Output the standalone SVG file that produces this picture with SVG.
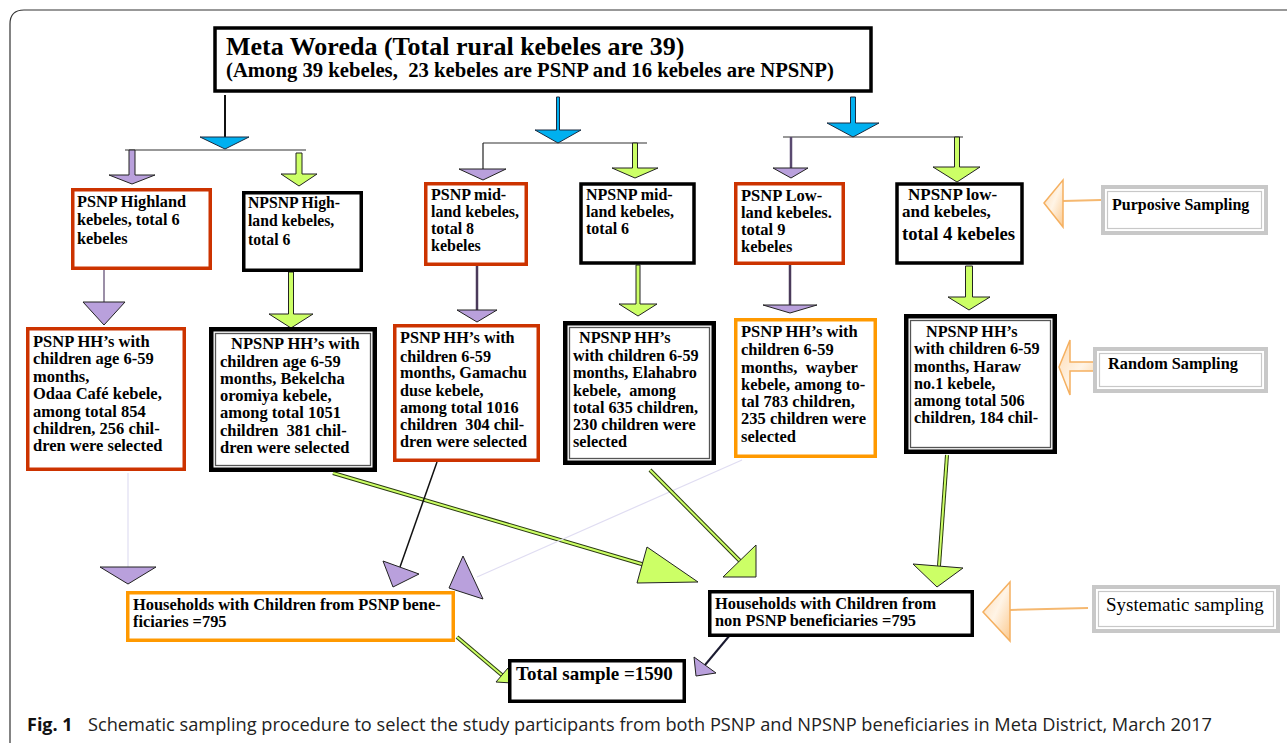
<svg xmlns="http://www.w3.org/2000/svg" width="1287" height="743" viewBox="0 0 1287 743">
<style>
.t{font-family:"Liberation Serif","Times New Roman",serif;font-weight:bold;fill:#000;white-space:pre}
.red{fill:#fff;stroke:#cc3300;stroke-width:3.5}
.org{fill:#fff;stroke:#ff9900;stroke-width:3.5}
.blk{fill:#fff;stroke:#000;stroke-width:3.5}
.dbo{fill:#fff;stroke:#000;stroke-width:4.5}
.dbi{fill:none;stroke:#555;stroke-width:1.3}
.gro{fill:#fff;stroke:#c8c8c8;stroke-width:4}
.gri{fill:none;stroke:#c8c8c8;stroke-width:1.2}
.pu{fill:#b9a0dc;stroke:#222;stroke-width:1}
.gr{fill:#ccff66;stroke:#222;stroke-width:1}
.bl{fill:#00b0f0;stroke:#1a2a40;stroke-width:1}
.hl{fill:none;stroke:#333;stroke-width:1.2}
.gl1{fill:none;stroke:#2a3a10;stroke-width:4}
.gl2{fill:none;stroke:#ccff66;stroke-width:2}
.oa{fill:url(#og);stroke:#f5b060;stroke-width:1.5}
.ol{fill:none;stroke:#f5b870;stroke-width:2}
</style>
<defs>
<linearGradient id="og" x1="0" y1="0" x2="1" y2="1">
<stop offset="0" stop-color="#fdd9b0"/>
<stop offset="0.5" stop-color="#fff4e6"/>
<stop offset="1" stop-color="#fbc98e"/>
</linearGradient>
</defs>
<rect width="1287" height="743" fill="#fff"/>
<path d="M10,743 L10,24 Q10,10 24,10 L1287,10" fill="none" stroke="#333" stroke-width="1.2"/>

<g id="connectors">
<line x1="225" y1="95" x2="225" y2="137" stroke="#111" stroke-width="2"/>
<polygon class="bl" points="200,137 249,137 225,149"/>
<line class="hl" x1="125" y1="150" x2="306" y2="150"/>
<polygon class="pu" points="129,150 129,175 109,175 132,184 155,175 135,175 135,150"/>
<polygon class="gr" points="296,153 296,174 281,174 299,186 317,174 302,174 302,153"/>
<polygon class="bl" points="556.5,97 556.5,130 535,130 558,143 581,130 559.5,130 559.5,97"/>
<line class="hl" x1="483" y1="143" x2="647" y2="143"/>
<line x1="483" y1="143" x2="483" y2="169" stroke="#222" stroke-width="1.2"/>
<polygon class="pu" points="459,169 506,169 483,180"/>
<polygon class="gr" points="632.5,143 632.5,168 612,168 635,178 658,168 637.5,168 637.5,143"/>
<polygon class="bl" points="850.5,97 850.5,123 827,123 853,137 879,123 855.5,123 855.5,97"/>
<line class="hl" x1="783" y1="137" x2="963" y2="137"/>
<line x1="791" y1="137" x2="791" y2="168" stroke="#5a4a70" stroke-width="2.5"/>
<polygon class="pu" points="773,168 808,168 791,178"/>
<polygon class="gr" points="954.5,137 954.5,167 933,167 957,182 980,167 959.5,167 959.5,137"/>
<line x1="104" y1="270" x2="104" y2="302" stroke="#7a6a8a" stroke-width="1.5"/>
<polygon class="pu" points="83,302 125,302 104,325"/>
<polygon class="gr" points="288.5,272 288.5,314 269,314 291,328 313,314 293.5,314 293.5,272"/>
<line x1="477" y1="266" x2="477" y2="310" stroke="#4a3a5a" stroke-width="2.5"/>
<polygon class="pu" points="457,310 497,310 477,322"/>
<polygon class="gr" points="636,265 636,304 619,304 638,316 657,304 640,304 640,265"/>
<line x1="790" y1="265" x2="790" y2="305" stroke="#4a3a5a" stroke-width="2.5"/>
<polygon class="pu" points="763,305 817,305 790,313"/>
<polygon class="gr" points="965.5,266 965.5,297 948,297 969,310 990,297 972.5,297 972.5,266"/>
<line x1="128" y1="473" x2="128" y2="567" stroke="#e6e4f4" stroke-width="1.5"/>
<polygon class="pu" points="100,567 156,567 128,584"/>
<path class="gl1" d="M333,473 L645,565"/>
<path class="gl2" d="M333,473 L645,565"/>
<polygon class="gr" points="647,547 637,583 698,582"/>
<line x1="437" y1="462" x2="400" y2="567" stroke="#111" stroke-width="1.5"/>
<polygon class="pu" points="383,561 419,574 393,587"/>
<line x1="742" y1="460" x2="477" y2="577" stroke="#e0ddf2" stroke-width="1.2"/>
<polygon class="pu" points="463,556 449,588 483,599"/>
<path class="gl1" d="M650,470 L740,561"/>
<path class="gl2" d="M650,470 L740,561"/>
<polygon class="gr" points="756,545 756,577 723,577"/>
<path class="gl1" d="M947,455 L939,566"/>
<path class="gl2" d="M947,455 L939,566"/>
<polygon class="gr" points="913,564 963,568 937,587"/>
<path class="gl1" d="M457,637 L503,676"/>
<path class="gl2" d="M457,637 L503,676"/>
<polygon class="gr" points="496,682 508,668 512,683"/>
<line x1="730" y1="635" x2="705" y2="665" stroke="#1a1a30" stroke-width="2"/>
<polygon class="pu" points="694,657 716,673 696,676"/>
<line class="ol" x1="1063" y1="201" x2="1101" y2="200"/>
<polygon class="oa" points="1044,203 1063,180 1063,227"/>
<polygon class="oa" points="1059,367 1070,340 1070,362 1102,362 1102,371 1070,371 1070,395"/>
<line class="ol" x1="1010" y1="610" x2="1088" y2="608"/>
<polygon class="oa" points="983,612 1010,582 1010,641"/>
</g>

<g id="meta">
<rect class="blk" x="215" y="28" width="656" height="63"/>
<text class="t" x="226" y="55" font-size="26">Meta Woreda (Total rural kebeles are 39)</text>
<text class="t" x="226" y="77" font-size="20.7">(Among 39 kebeles,  23 kebeles are PSNP and 16 kebeles are NPSNP)</text>
</g>

<g id="psnp-highland">
<rect class="red" x="72.75" y="189.75" width="137.5" height="78.5"/>
<text class="t" font-size="16.3"><tspan x="77" y="207">PSNP Highland</tspan><tspan x="77" y="225">kebeles, total 6</tspan><tspan x="77" y="244">kebeles</tspan></text>
</g>
<g id="npsnp-highland">
<rect class="blk" x="243.75" y="192.75" width="117.5" height="77.5"/>
<text class="t" font-size="15.7"><tspan x="248" y="208">NPSNP High-</tspan><tspan x="248" y="226">land kebeles,</tspan><tspan x="248" y="245">total 6</tspan></text>
</g>
<g id="psnp-midland">
<rect class="red" x="425.75" y="183.75" width="100.5" height="80.5"/>
<text class="t" font-size="16"><tspan x="431" y="200">PSNP mid-</tspan><tspan x="431" y="217">land kebeles,</tspan><tspan x="431" y="234">total 8</tspan><tspan x="431" y="251">kebeles</tspan></text>
</g>
<g id="npsnp-midland">
<rect class="blk" x="581" y="184" width="113" height="79" stroke-width="4"/>
<text class="t" font-size="16"><tspan x="586" y="200">NPSNP mid-</tspan><tspan x="586" y="217">land kebeles,</tspan><tspan x="586" y="234">total 6</tspan></text>
</g>
<g id="psnp-lowland">
<rect class="red" x="735.75" y="183.75" width="107.5" height="79.5"/>
<text class="t" font-size="16.5"><tspan x="741" y="201">PSNP Low-</tspan><tspan x="741" y="218">land kebeles.</tspan><tspan x="741" y="235">total 9</tspan><tspan x="741" y="252">kebeles</tspan></text>
</g>
<g id="npsnp-lowland">
<rect class="blk" x="897" y="184" width="125" height="79" stroke-width="4"/>
<text class="t" font-size="17"><tspan x="908" y="200">NPSNP low-</tspan><tspan x="902" y="217">and kebeles,</tspan></text>
<text class="t" x="902" y="240" font-size="18.7">total 4 kebeles</text>
</g>

<g id="psnp-hh-odaa">
<rect class="red" x="27.75" y="328.75" width="156.5" height="140.5"/>
<text class="t" font-size="16.5"><tspan x="33" y="347">PSNP HH’s with</tspan><tspan x="33" y="364">children age 6-59</tspan><tspan x="33" y="382">months,</tspan><tspan x="33" y="399">Odaa Café kebele,</tspan><tspan x="33" y="417">among total 854</tspan><tspan x="33" y="434">children, 256 chil-</tspan><tspan x="33" y="451">dren were selected</tspan></text>
</g>
<g id="npsnp-hh-bekelcha">
<rect class="dbo" x="211.25" y="329.25" width="163.5" height="140.5"/>
<rect class="dbi" x="215.5" y="333.5" width="155" height="132"/>
<text class="t" font-size="16.5"><tspan x="231" y="349">NPSNP HH’s with</tspan><tspan x="220" y="367">children age 6-59</tspan><tspan x="220" y="384">months, Bekelcha</tspan><tspan x="220" y="401">oromiya kebele,</tspan><tspan x="220" y="418">among total 1051</tspan><tspan x="220" y="436">children  381 chil-</tspan><tspan x="220" y="453">dren were selected</tspan></text>
</g>
<g id="psnp-hh-gamachu">
<rect class="red" x="394.75" y="325.75" width="143.5" height="134.5"/>
<text class="t" font-size="16.2"><tspan x="400" y="343">PSNP HH’s with</tspan><tspan x="400" y="362">children 6-59</tspan><tspan x="400" y="378">months, Gamachu</tspan><tspan x="400" y="396">duse kebele,</tspan><tspan x="400" y="413">among total 1016</tspan><tspan x="400" y="430">children  304 chil-</tspan><tspan x="400" y="447">dren were selected</tspan></text>
</g>
<g id="npsnp-hh-elahabro">
<rect class="dbo" x="565.25" y="323.25" width="148.5" height="139.5"/>
<rect class="dbi" x="569.5" y="327.5" width="140" height="131"/>
<text class="t" font-size="16.2"><tspan x="579" y="343">NPSNP HH’s</tspan><tspan x="573" y="361">with children 6-59</tspan><tspan x="573" y="378">months, Elahabro</tspan><tspan x="573" y="396">kebele,  among</tspan><tspan x="573" y="413">total 635 children,</tspan><tspan x="573" y="430">230 children were</tspan><tspan x="573" y="447">selected</tspan></text>
</g>
<g id="psnp-hh-wayber">
<rect class="org" x="735.75" y="319.75" width="139.5" height="136.5"/>
<text class="t" font-size="16.5"><tspan x="741" y="337">PSNP HH’s with</tspan><tspan x="741" y="355">children 6-59</tspan><tspan x="741" y="373">months,  wayber</tspan><tspan x="741" y="390">kebele, among to-</tspan><tspan x="741" y="407">tal 783 children,</tspan><tspan x="741" y="424">235 children were</tspan><tspan x="741" y="442">selected</tspan></text>
</g>
<g id="npsnp-hh-haraw">
<rect class="dbo" x="906.25" y="316.25" width="148.5" height="135.5"/>
<rect class="dbi" x="910.5" y="320.5" width="140" height="127"/>
<text class="t" font-size="16.2"><tspan x="926" y="337">NPSNP HH’s</tspan><tspan x="914" y="354">with children 6-59</tspan><tspan x="914" y="372">months, Haraw</tspan><tspan x="914" y="389">no.1 kebele,</tspan><tspan x="914" y="406">among total 506</tspan><tspan x="914" y="423">children, 184 chil-</tspan></text>
</g>

<g id="hh-psnp">
<rect class="org" x="127.75" y="592.75" width="325.5" height="47.5"/>
<text class="t" font-size="16.4"><tspan x="133" y="610">Households with Children from PSNP bene-</tspan><tspan x="133" y="627">ficiaries =795</tspan></text>
</g>
<g id="hh-npsnp">
<rect class="blk" x="709.75" y="591.75" width="262.5" height="43.5"/>
<text class="t" font-size="16.4"><tspan x="715" y="609">Households with Children from</tspan><tspan x="715" y="626">non PSNP beneficiaries =795</tspan></text>
</g>
<g id="total">
<rect class="blk" x="509.75" y="660.75" width="174.5" height="40.5"/>
<text class="t" x="516" y="680" font-size="19">Total sample =1590</text>
</g>

<g id="purposive">
<rect class="gro" x="1103" y="187" width="163" height="46"/>
<rect class="gri" x="1107.5" y="191.5" width="154" height="37"/>
<text class="t" x="1112" y="210" font-size="16">Purposive Sampling</text>
</g>
<g id="random">
<rect class="gro" x="1095" y="349" width="171" height="42"/>
<rect class="gri" x="1099.5" y="353.5" width="162" height="33"/>
<text class="t" x="1108" y="369" font-size="16.3">Random Sampling</text>
</g>
<g id="systematic">
<rect class="gro" x="1094" y="587" width="184" height="44"/>
<rect class="gri" x="1098.5" y="591.5" width="175" height="35"/>
<text x="1106" y="611" font-size="19" font-family="'Liberation Serif','Times New Roman',serif">Systematic sampling</text>
</g>

<g id="caption">
<text x="27" y="731" font-size="18" font-weight="bold" font-family="'Open Sans','Noto Sans',sans-serif" fill="#111">Fig. 1</text>
<text x="88" y="731" font-size="17.5" font-family="'Open Sans','Noto Sans',sans-serif" fill="#222" textLength="1124" lengthAdjust="spacingAndGlyphs">Schematic sampling procedure to select the study participants from both PSNP and NPSNP beneficiaries in Meta District, March 2017</text>
</g>
</svg>
